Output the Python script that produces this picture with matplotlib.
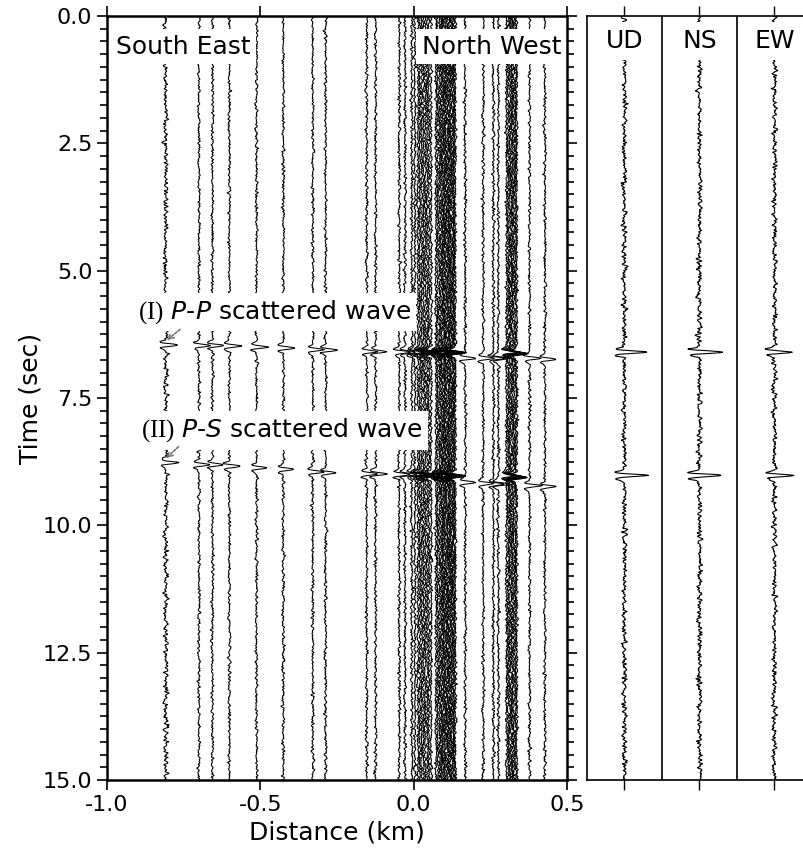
import numpy as np
import matplotlib
matplotlib.use("Agg")
import matplotlib.pyplot as plt
from matplotlib.ticker import MultipleLocator, FormatStrFormatter

plt.rcParams['font.family'] = 'DejaVu Sans'
plt.rcParams['axes.unicode_minus'] = False
plt.rcParams['mathtext.fontset'] = 'custom'
plt.rcParams['mathtext.rm'] = 'Liberation Serif'
plt.rcParams['mathtext.it'] = 'DejaVu Sans:italic'

# -- station offsets along the profile (km, SE negative / NW positive)
dist = [-0.808, -0.700, -0.656, -0.601, -0.512, -0.425, -0.329, -0.287,
        -0.153, -0.124, -0.047, -0.028, -0.006, 0.004,
        0.014, 0.020, 0.026, 0.032, 0.038, 0.044, 0.050, 0.057,
        0.073, 0.078, 0.084,
        0.089, 0.093, 0.097, 0.101, 0.105, 0.109, 0.113, 0.117, 0.121,
        0.125, 0.129, 0.132, 0.136,
        0.168, 0.227, 0.260, 0.276,
        0.303, 0.308, 0.313, 0.318, 0.322, 0.327, 0.332, 0.336,
        0.378, 0.428]
# -- picked arrival times (s): P-P and P-S scattered phases
t_pp = [6.46, 6.47, 6.47, 6.48, 6.50, 6.52, 6.55, 6.56,
        6.59, 6.59, 6.60, 6.60, 6.60, 6.60,
        6.60, 6.60, 6.60, 6.60, 6.60, 6.61, 6.61, 6.61,
        6.61, 6.61, 6.61,
        6.61, 6.61, 6.61, 6.61, 6.61, 6.61, 6.61, 6.61, 6.61,
        6.61, 6.61, 6.61, 6.61,
        6.72, 6.72, 6.72, 6.72,
        6.60, 6.60, 6.61, 6.61, 6.62, 6.62, 6.63, 6.63,
        6.72, 6.74]
t_ps = [8.77, 8.81, 8.81, 8.84, 8.87, 8.90, 8.95, 8.97,
        8.99, 8.99, 9.00, 9.00, 9.00, 9.00,
        9.00, 9.00, 9.01, 9.01, 9.01, 9.02, 9.02, 9.02,
        9.02, 9.02, 9.02,
        9.02, 9.03, 9.03, 9.03, 9.03, 9.03, 9.03, 9.03, 9.03,
        9.03, 9.03, 9.03, 9.03,
        9.16, 9.18, 9.19, 9.19,
        9.02, 9.03, 9.04, 9.04, 9.05, 9.05, 9.06, 9.06,
        9.22, 9.24]

# -- three-component record of the single station (right panel)
comp_names = ['UD', 'NS', 'EW']
comp_t = [6.60, 9.02]
comp_amp = [0.30, 0.30, 0.26]

dt = 0.01
t = np.arange(0.0, 15.0 + dt, dt)
rng = np.random.default_rng(7)


def ricker(tt, t0, f=6.5):
    a = (np.pi * f * (tt - t0)) ** 2
    return (1.0 - 2.0 * a) * np.exp(-a)


def bgnoise(n, sd):
    w = rng.standard_normal(n + 2)
    w = np.convolve(w, [0.3, 0.4, 0.3], mode='same')[1:-1]
    return sd * w / w.std()


fig = plt.figure(figsize=(8.04, 8.56), dpi=100)
fig.patch.set_facecolor('white')
fs = 18

# -- record section
ax = fig.add_axes([107 / 804, 1 - 780 / 856, 460 / 804, 764 / 856])
spike = 0.036
for i, x0 in enumerate(dist):
    sd = 0.0038 if i == 0 else 0.0022
    tr = bgnoise(t.size, sd) + spike * (ricker(t, t_pp[i]) + ricker(t, t_ps[i]))
    ax.plot(x0 + tr, t, color='black', lw=0.75, zorder=2)

ax.set_xlim(-1.0, 0.5)
ax.set_ylim(15.0, 0.0)
ax.set_xticks([-1.0, -0.5, 0.0, 0.5])
ax.set_xticklabels(['-1.0', '-0.5', '0.0', '0.5'])
ax.yaxis.set_major_locator(MultipleLocator(2.5))
ax.yaxis.set_minor_locator(MultipleLocator(0.25))
ax.yaxis.set_major_formatter(FormatStrFormatter('%.1f'))
ax.tick_params(which='both', direction='out', top=True, right=True, width=1.2,
               labelsize=16)
ax.tick_params(which='major', length=7)
ax.tick_params(which='minor', length=5)
for s in ax.spines.values():
    s.set_linewidth(1.8)
    s.set_zorder(10)
ax.set_xlabel('Distance (km)', fontsize=18, labelpad=4)
ax.set_ylabel('Time (sec)', fontsize=18, labelpad=0)

box = dict(facecolor='white', edgecolor='none', pad=4)
ax.text(-0.972, 0.6, 'South East', fontsize=fs, va='center', ha='left',
        bbox=box, zorder=5)
ax.text(0.482, 0.6, 'North West', fontsize=fs, va='center', ha='right',
        bbox=box, zorder=5)
ax.text(-0.90, 5.81, r'$\mathrm{(I)}$ $P$-$P$ scattered wave', fontsize=fs,
        va='center', ha='left', bbox=box, zorder=5)
ax.text(-0.89, 8.13, r'$\mathrm{(II)}$ $P$-$S$ scattered wave', fontsize=fs,
        va='center', ha='left', bbox=box, zorder=5)

arrow = dict(arrowstyle='->', color='0.45', lw=1.2, linestyle=(0, (1.5, 1)))
ax.annotate('', xy=(-0.812, 6.40), xytext=(-0.755, 6.12),
            arrowprops=arrow, zorder=6)
ax.annotate('', xy=(-0.815, 8.72), xytext=(-0.760, 8.42),
            arrowprops=arrow, zorder=6)

# -- three-component panel
ax2 = fig.add_axes([587 / 804, 1 - 780 / 856, 225 / 804, 764 / 856])
for k, name in enumerate(comp_names):
    x0 = k + 0.5
    tr = bgnoise(t.size, 0.016)
    for tc in comp_t:
        tr = tr + comp_amp[k] * ricker(t, tc)
    ax2.plot(x0 + tr, t, color='black', lw=0.8, zorder=2)
    ax2.text(x0, 0.5, name, fontsize=fs, ha='center', va='center',
             bbox=dict(facecolor='white', edgecolor='none', pad=5), zorder=5)
    if k > 0:
        ax2.axvline(k, color='black', lw=1.2, zorder=6)
ax2.set_xlim(0, 3)
ax2.set_ylim(15.0, 0.0)
ax2.set_xticks([0.5, 1.5, 2.5])
ax2.set_xticklabels([])
ax2.set_yticks([])
ax2.tick_params(axis='x', direction='out', top=True, bottom=True, length=7,
                width=1.0)
for s in ax2.spines.values():
    s.set_linewidth(1.2)
    s.set_zorder(10)

fig.savefig('out.png', dpi=100, facecolor='white')
